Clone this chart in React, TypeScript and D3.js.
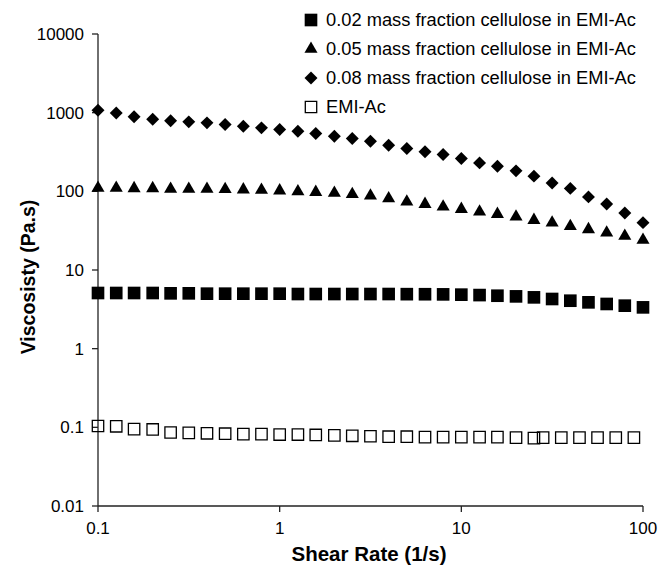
import * as d3 from "d3";

// shear rate (1/s) shared by the three cellulose solutions
const shearRate = [
  0.1, 0.126, 0.158, 0.2, 0.251, 0.316, 0.398, 0.501, 0.631, 0.794, 1, 1.26, 1.58, 2, 2.51, 3.16,
  3.98, 5.01, 6.31, 7.94, 10, 12.6, 15.8, 20, 25.1, 31.6, 39.8, 50.1, 63.1, 79.4, 100,
];
// the pure EMI-Ac run has its own shear rates at the high end
const shearRateEmi = [
  0.1, 0.126, 0.158, 0.2, 0.251, 0.316, 0.398, 0.501, 0.631, 0.794, 1, 1.26, 1.58, 2, 2.51, 3.16,
  3.98, 5.01, 6.31, 7.94, 10, 12.6, 15.8, 20, 25.1, 28.2, 35.5, 44.7, 56.2, 70.8, 89.1,
];

const visc002 = [
  5.1, 5.1, 5.1, 5.1, 5.05, 5.05, 5.0, 5.0, 5.0, 5.0, 5.0, 4.95, 4.95, 4.95, 4.95, 4.95, 4.95, 4.93,
  4.92, 4.9, 4.86, 4.8, 4.71, 4.62, 4.49, 4.28, 4.07, 3.88, 3.7, 3.52, 3.35,
];
const visc005 = [
  110, 110, 109, 109, 107, 107, 107, 106, 105, 104, 102, 99.6, 97.6, 95, 92, 87.7, 81, 73.6, 68.7,
  63.5, 59.4, 55, 51.3, 47.4, 43, 39.8, 36, 32.8, 29.7, 27, 24,
];
const visc008 = [
  1070, 990, 885, 826, 787, 764, 742, 708, 673, 641, 611, 582, 544, 502, 470, 434, 386, 351, 318, 294,
  262, 230, 209, 182, 156, 128, 109, 85, 69, 53, 40,
];
const viscEmi = [
  0.104, 0.103, 0.095, 0.094, 0.086, 0.085, 0.084, 0.083, 0.082, 0.082, 0.081, 0.081, 0.08, 0.079,
  0.078, 0.077, 0.076, 0.076, 0.075, 0.075, 0.075, 0.075, 0.075, 0.074, 0.073, 0.074, 0.074, 0.074,
  0.074, 0.074, 0.074,
];

const seriesNames = [
  "0.02 mass fraction cellulose in EMI-Ac",
  "0.05 mass fraction cellulose in EMI-Ac",
  "0.08 mass fraction cellulose in EMI-Ac",
  "EMI-Ac",
];

const xTicks = [0.1, 1, 10, 100];
const yTicks = [0.01, 0.1, 1, 10, 100, 1000, 10000];
const xTickLabels = ["0.1", "1", "10", "100"];
const yTickLabels = ["0.01", "0.1", "1", "10", "100", "1000", "10000"];

const W = 661;
const H = 568;
const FONT = "'Liberation Sans', Arial, sans-serif";

type Kind = "square" | "triangle" | "diamond" | "open";

const marker = (kind: Kind, x: number, y: number, key: string | number) => {
  if (kind === "square") {
    return <path key={key} d={d3.symbol(d3.symbolSquare, 160)()!} transform={`translate(${x},${y})`} fill="#000" />;
  }
  if (kind === "triangle") {
    return <path key={key} d={d3.symbol(d3.symbolTriangle, 74)()!} transform={`translate(${x},${y})`} fill="#000" />;
  }
  if (kind === "diamond") {
    return (
      <path key={key} d={d3.symbol(d3.symbolSquare, 84)()!} transform={`translate(${x},${y}) rotate(45)`} fill="#000" />
    );
  }
  return (
    <path
      key={key}
      d={d3.symbol(d3.symbolSquare, 130)()!}
      transform={`translate(${x},${y})`}
      fill="none"
      stroke="#000"
      strokeWidth={1.3}
    />
  );
};

export default function App() {
  const x = d3.scaleLog().domain([0.1, 100]).range([98, 643]);
  const y = d3.scaleLog().domain([0.01, 10000]).range([506, 34]);

  const series: { kind: Kind; xs: number[]; ys: number[] }[] = [
    { kind: "square", xs: shearRate, ys: visc002 },
    { kind: "triangle", xs: shearRate, ys: visc005 },
    { kind: "diamond", xs: shearRate, ys: visc008 },
    { kind: "open", xs: shearRateEmi, ys: viscEmi },
  ];

  return (
    <svg width={W} height={H} style={{ position: "absolute", left: 0, top: 0, background: "#fff" }} fontFamily={FONT}>
      {/* axes */}
      <line x1={x(0.1)} x2={x(0.1)} y1={y(10000)} y2={y(0.01)} stroke="#222" strokeWidth={1.3} />
      <line x1={x(0.1)} x2={x(100)} y1={y(0.01)} y2={y(0.01)} stroke="#222" strokeWidth={1.3} />
      {yTicks.map((t, i) => (
        <g key={"yt" + i}>
          <line x1={x(0.1) - 6} x2={x(0.1)} y1={y(t)} y2={y(t)} stroke="#222" strokeWidth={1.3} />
          <text x={x(0.1) - 14} y={y(t)} dy="0.35em" textAnchor="end" fontSize={17}>
            {yTickLabels[i]}
          </text>
        </g>
      ))}
      {xTicks.map((t, i) => (
        <g key={"xt" + i}>
          <line x1={x(t)} x2={x(t)} y1={y(0.01)} y2={y(0.01) + 6} stroke="#222" strokeWidth={1.3} />
          <text x={x(t)} y={y(0.01) + 28} textAnchor="middle" fontSize={17}>
            {xTickLabels[i]}
          </text>
        </g>
      ))}
      <text x={369} y={561} textAnchor="middle" fontSize={20.5} fontWeight="bold">
        Shear Rate (1/s)
      </text>
      <text transform={`translate(35,${277}) rotate(-90)`} textAnchor="middle" fontSize={19.5} fontWeight="bold">
        Viscosisty (Pa.s)
      </text>

      {/* data */}
      {series.map((s, si) => (
        <g key={"s" + si}>{s.ys.map((v, i) => marker(s.kind, x(s.xs[i]), y(v), i))}</g>
      ))}

      {/* legend */}
      {series.map((s, i) => (
        <g key={"l" + i}>
          {marker(s.kind, 311, 20 + i * 29, "m")}
          <text x={326} y={20 + i * 29} dy="0.35em" fontSize={18.3}>
            {seriesNames[i]}
          </text>
        </g>
      ))}
    </svg>
  );
}
